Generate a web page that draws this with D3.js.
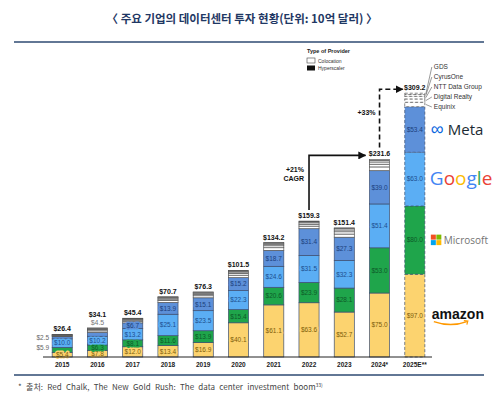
<!DOCTYPE html>
<html>
<head>
<meta charset="utf-8">
<script src="https://cdn.jsdelivr.net/npm/d3@7"></script>
<style>
  body { margin: 0; background: #fff; }
  text { font-family: "Liberation Sans", Arial, sans-serif; }
</style>
</head>
<body>
<div id="chart"></div>
<script>
// data (US$ billions)
var years = ["2015","2016","2017","2018","2019","2020","2021","2022","2023","2024*","2025E**"];
var amazon    = [5.4, 7.8, 12.0, 13.4, 16.9, 40.1, 61.1, 63.6, 52.7, 75.0, 97.0];
var microsoft = [5.9, 6.3, 8.1, 11.6, 13.9, 15.4, 20.6, 23.9, 28.1, 53.0, 80.0];
var google    = [10.0, 10.2, 13.2, 25.1, 23.5, 22.3, 24.6, 31.5, 32.3, 51.4, 63.0];
var meta      = [2.5, 4.5, 6.7, 13.9, 15.1, 15.2, 18.7, 31.4, 27.3, 39.0, 53.4];
var equinix   = [0.9, 1.8, 1.9, 2.3, 2.4, 2.9, 3.1, 3.0, 3.7, 4.4, 5.2];
var digitalRealty = [0.6, 1.3, 1.3, 1.6, 1.7, 2.1, 2.3, 2.2, 2.7, 3.2, 3.9];
var nttData   = [0.5, 1.0, 1.0, 1.3, 1.3, 1.6, 1.8, 1.7, 2.1, 2.6, 3.1];
var cyrusOne  = [0.3, 0.7, 0.7, 0.9, 0.9, 1.1, 1.2, 1.2, 1.5, 1.8, 2.1];
var gds       = [0.3, 0.5, 0.5, 0.6, 0.6, 0.8, 0.8, 0.8, 1.0, 1.2, 1.5];
var totals    = [26.4, 34.1, 45.4, 70.7, 76.3, 101.5, 134.2, 159.3, 151.4, 231.6, 309.2];
var keys = ["amazon","microsoft","google","meta","equinix","digitalRealty","nttData","cyrusOne","gds"];
var coloNames = ["Equinix","Digital Realty","NTT Data Group","CyrusOne","GDS"];

var rows = years.map(function(y, i) {
  return {year: y, amazon: amazon[i], microsoft: microsoft[i], google: google[i], meta: meta[i],
    equinix: equinix[i], digitalRealty: digitalRealty[i], nttData: nttData[i],
    cyrusOne: cyrusOne[i], gds: gds[i], total: totals[i]};
});

var W = 500, H = 401;
var svg = d3.select("#chart").append("svg")
  .attr("width", W).attr("height", H);

var fills = {amazon: "#FCD36F", microsoft: "#1FA54B", google: "#5BAEF4", meta: "#5D90D9",
  equinix: "#ffffff", digitalRealty: "#ffffff", nttData: "#ffffff", cyrusOne: "#ffffff", gds: "#ffffff"};
var labelInk = {amazon: "#7d5d0a", microsoft: "#0d5a28", google: "#1d4f8f", meta: "#1c3f7c"};

// title + rules
svg.append("text")
  .attr("x", 242).attr("y", 23)
  .attr("text-anchor", "middle")
  .style("font-family", "'Noto Sans CJK KR', sans-serif")
  .style("font-size", "11.5px").style("font-weight", "bold")
  .attr("fill", "#1F3864")
  .text("〈 주요 기업의 데이터센터 투자 현황(단위: 10억 달러) 〉");
svg.append("line").attr("x1", 14).attr("x2", 484).attr("y1", 42).attr("y2", 42)
  .attr("stroke", "#2E4A72").attr("stroke-width", 1.3);
svg.append("line").attr("x1", 14).attr("x2", 484).attr("y1", 375).attr("y2", 375)
  .attr("stroke", "#2E4A72").attr("stroke-width", 1.3);

// scales
var x = d3.scaleBand().domain(years).range([37, 440]).paddingInner(0.43).paddingOuter(0.43);
var y = d3.scaleLinear().domain([0, 320]).range([357, 84]);

var series = d3.stack().keys(keys)(rows);
var last = years[years.length - 1];

var g = svg.append("g");
series.forEach(function(s) {
  g.append("g").selectAll("rect")
    .data(s)
    .enter().append("rect")
      .attr("x", function(d) { return x(d.data.year); })
      .attr("y", function(d) { return y(d[1]); })
      .attr("width", x.bandwidth())
      .attr("height", function(d) { return y(d[0]) - y(d[1]); })
      .attr("fill", fills[s.key])
      .attr("stroke", keys.indexOf(s.key) > 3 ? "#555" : "#3d4f70")
      .attr("stroke-width", 0.7)
      .attr("stroke-dasharray", function(d) { return d.data.year == last ? "3,2" : null; });
});

// segment labels (hyperscalers only)
keys.slice(0, 4).forEach(function(k, ki) {
  series[ki].forEach(function(d, i) {
    var v = d.data[k];
    var cx = x(d.data.year) + x.bandwidth() / 2;
    var cy = (y(d[0]) + y(d[1])) / 2;
    var outside = (i == 0 && (k == "microsoft" || k == "meta"));
    var above = (i == 1 && k == "meta");
    var t = svg.append("text")
      .style("font-size", "6.5px")
      .text("$" + v.toFixed(1));
    if (outside) {
      t.attr("x", x(d.data.year) - 3).attr("y", k == "meta" ? 340 : 350)
        .attr("text-anchor", "end").attr("fill", "#666");
    } else if (above) {
      t.attr("x", cx).attr("y", y(d.data.total) - 3)
        .attr("text-anchor", "middle").attr("fill", "#777").style("font-size", "7px");
    } else {
      t.attr("x", cx).attr("y", cy + 2.3)
        .attr("text-anchor", "middle")
        .attr("fill", labelInk[k])
        .attr("stroke", fills[k]).attr("stroke-width", 3)
        .attr("stroke-linejoin", "round")
        .style("paint-order", "stroke");
    }
  });
});

// totals
svg.append("g").selectAll("text")
  .data(rows)
  .enter().append("text")
    .attr("x", function(d) { return x(d.year) + x.bandwidth() / 2; })
    .attr("y", function(d, i) { return y(d.total) - (i == 1 ? 11 : 3); })
    .attr("text-anchor", "middle")
    .style("font-size", "7px").style("font-weight", "bold")
    .attr("fill", "#111")
    .text(function(d) { return "$" + d.total.toFixed(1); });

// baseline + year labels
svg.append("line").attr("x1", 43).attr("x2", 432).attr("y1", y(0)).attr("y2", y(0))
  .attr("stroke", "#222").attr("stroke-width", 1);
svg.append("g").selectAll("text")
  .data(years)
  .enter().append("text")
    .attr("x", function(d) { return x(d) + x.bandwidth() / 2; })
    .attr("y", 367)
    .attr("text-anchor", "middle")
    .style("font-size", "6.5px").style("font-weight", "bold")
    .attr("fill", "#222")
    .text(function(d) { return d; });

// legend
var lg = svg.append("g").attr("transform", "translate(307,50)");
lg.append("text").attr("x", 0).attr("y", 3).style("font-size", "5.5px").style("font-weight", "bold")
  .attr("fill", "#222").text("Type of Provider");
lg.append("rect").attr("x", 0).attr("y", 8).attr("width", 8).attr("height", 5)
  .attr("fill", "#fff").attr("stroke", "#444").attr("stroke-width", 0.6);
lg.append("text").attr("x", 11).attr("y", 12.5).style("font-size", "5px").attr("fill", "#333").text("Colocation");
lg.append("rect").attr("x", 0).attr("y", 15.5).attr("width", 8).attr("height", 5).attr("fill", "#111");
lg.append("text").attr("x", 11).attr("y", 20).style("font-size", "5px").attr("fill", "#333").text("Hyperscaler");

// arrowhead
svg.append("defs").append("marker")
  .attr("id", "arr").attr("viewBox", "0 0 10 10").attr("refX", 9).attr("refY", 5)
  .attr("markerWidth", 5).attr("markerHeight", 5).attr("orient", "auto")
  .append("path").attr("d", "M0,0L10,5L0,10z").attr("fill", "#111");

// CAGR 2022 -> 2024
var x22 = x("2022") + x.bandwidth() / 2, x24 = x("2024*") + x.bandwidth() / 2, x25 = x(last);
var yTop1 = y(totals[9]) - 4;
svg.append("path")
  .attr("d", "M" + x22 + "," + (y(totals[7]) - 11) + "V" + yTop1 + "H" + (x24 - 14))
  .attr("fill", "none").attr("stroke", "#111").attr("stroke-width", 1.6)
  .attr("marker-end", "url(#arr)");
svg.append("text").attr("x", 304).attr("y", 172).attr("text-anchor", "end")
  .style("font-size", "7px").style("font-weight", "bold").attr("fill", "#111").text("+21%");
svg.append("text").attr("x", 304).attr("y", 181).attr("text-anchor", "end")
  .style("font-size", "7px").style("font-weight", "bold").attr("fill", "#111").text("CAGR");

// 2024 -> 2025E dashed
var yTop2 = y(totals[10]) - 4;
svg.append("path")
  .attr("d", "M" + x24 + "," + (y(totals[9]) - 12) + "V" + yTop2 + "H" + (x25 - 2))
  .attr("fill", "none").attr("stroke", "#111").attr("stroke-width", 1.6)
  .attr("stroke-dasharray", "5,3")
  .attr("marker-end", "url(#arr)");
svg.append("text").attr("x", x24 - 4).attr("y", 115).attr("text-anchor", "end")
  .style("font-size", "7px").style("font-weight", "bold").attr("fill", "#111").text("+33%");

// colocation provider call-outs on the 2025E bar
var xr = x(last) + x.bandwidth();
var labelY = [107, 97, 87, 77, 67];
keys.slice(4).forEach(function(k, j) {
  var d = series[4 + j][10];
  var sy = (y(d[0]) + y(d[1])) / 2;
  svg.append("line").attr("x1", xr + 1).attr("y1", sy).attr("x2", xr + 7).attr("y2", labelY[j])
    .attr("stroke", "#555").attr("stroke-width", 0.6);
  svg.append("text").attr("x", xr + 9).attr("y", labelY[j] + 2.3)
    .style("font-size", "6.5px").attr("fill", "#333").text(coloNames[j]);
});

// company logos beside the 2025E segments
function segMid(ki) { var d = series[ki][10]; return (y(d[0]) + y(d[1])) / 2; }
var lx = xr + 6;

var yMeta = segMid(3);
svg.append("text").attr("x", lx).attr("y", yMeta + 6)
  .style("font-size", "18px").attr("fill", "#0866E0").text("∞");
svg.append("text").attr("x", lx + 17).attr("y", yMeta + 5.5)
  .style("font-family", "'Open Sans', sans-serif")
  .style("font-size", "15px").attr("fill", "#1c2b33").text("Meta");

var yGoo = segMid(2);
var gt = svg.append("text").attr("x", lx - 1).attr("y", yGoo + 6)
  .style("font-family", "'Open Sans', sans-serif").style("font-size", "19px");
[["G","#4285F4"],["o","#EA4335"],["o","#FBBC05"],["g","#4285F4"],["l","#34A853"],["e","#EA4335"]]
  .forEach(function(p) { gt.append("tspan").attr("fill", p[1]).text(p[0]); });

var yMs = segMid(1);
[["#F25022",0,0],["#7FBA00",5.5,0],["#00A4EF",0,5.5],["#FFB900",5.5,5.5]].forEach(function(p) {
  svg.append("rect").attr("x", lx + p[1]).attr("y", yMs - 5.5 + p[2]).attr("width", 5).attr("height", 5).attr("fill", p[0]);
});
svg.append("text").attr("x", lx + 13).attr("y", yMs + 3.5)
  .style("font-family", "'Open Sans', sans-serif")
  .style("font-size", "10px").attr("fill", "#737373").text("Microsoft");

var yAm = segMid(0);
svg.append("text").attr("x", lx + 1).attr("y", yAm + 3)
  .style("font-family", "'Liberation Sans', Arial, sans-serif")
  .style("font-size", "14px").style("font-weight", "bold").attr("fill", "#111").text("amazon");
svg.append("path")
  .attr("d", "M" + (lx + 3) + "," + (yAm + 6) + "Q" + (lx + 20) + "," + (yAm + 12) + " " + (lx + 36) + "," + (yAm + 6))
  .attr("fill", "none").attr("stroke", "#FF9900").attr("stroke-width", 1.5);
svg.append("path")
  .attr("d", "M" + (lx + 33) + "," + (yAm + 5) + "L" + (lx + 37) + "," + (yAm + 5.5) + "L" + (lx + 36) + "," + (yAm + 9))
  .attr("fill", "none").attr("stroke", "#FF9900").attr("stroke-width", 1.2);

// source
var src = svg.append("text").attr("x", 18).attr("y", 390)
  .style("font-family", "'Noto Sans CJK KR', sans-serif")
  .style("font-size", "8px").style("word-spacing", "2.5px").attr("fill", "#444");
src.append("tspan").text("* 출처: Red Chalk, The New Gold Rush: The data center investment boom");
src.append("tspan").attr("dy", -3).style("font-size", "5px").text("33)");
</script>
</body>
</html>
